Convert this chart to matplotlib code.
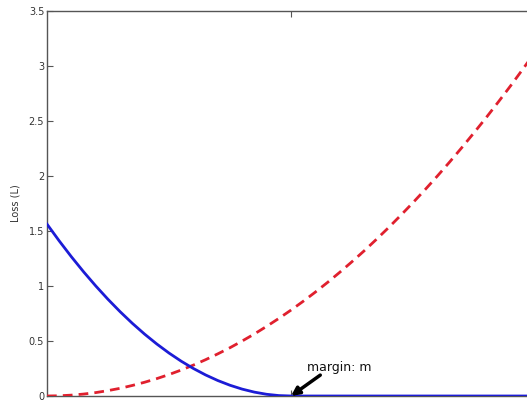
import matplotlib
matplotlib.use("Agg")
import matplotlib.pyplot as plt

# distance values (x)
distance = [0.0, 0.0625, 0.125, 0.1875, 0.25, 0.3125, 0.375, 0.4375, 0.5, 0.5625,
            0.625, 0.6875, 0.75, 0.8125, 0.875, 0.9375, 1.0, 1.0625, 1.125, 1.1875,
            1.25, 1.3125, 1.375, 1.4375, 1.5, 1.5625, 1.625, 1.6875, 1.75, 1.8125,
            1.875, 1.9375, 2.0, 2.0625, 2.125, 2.1875, 2.25, 2.3125, 2.375, 2.4375, 2.5]
# loss for dissimilar pairs (blue, solid)
loss_dissimilar = [1.5625, 1.4102, 1.2656, 1.1289, 1.0, 0.8789, 0.7656, 0.6602, 0.5625, 0.4727,
                   0.3906, 0.3164, 0.25, 0.1914, 0.1406, 0.0977, 0.0625, 0.0352, 0.0156, 0.0039,
                   0.0, 0.0, 0.0, 0.0, 0.0, 0.0, 0.0, 0.0, 0.0, 0.0,
                   0.0, 0.0, 0.0, 0.0, 0.0, 0.0, 0.0, 0.0, 0.0, 0.0, 0.0]
# loss for similar pairs (red, dashed)
loss_similar = [0.0, 0.002, 0.0078, 0.0176, 0.031, 0.049, 0.070, 0.096, 0.125, 0.158,
                0.195, 0.236, 0.281, 0.330, 0.383, 0.439, 0.5, 0.564, 0.633, 0.705,
                0.781, 0.861, 0.945, 1.033, 1.125, 1.221, 1.320, 1.424, 1.531, 1.643,
                1.758, 1.877, 2.0, 2.127, 2.258, 2.393, 2.531, 2.674, 2.820, 2.971, 3.125]
margin = 1.25
y_ticks = [0, 0.5, 1, 1.5, 2, 2.5, 3, 3.5]
y_tick_labels = ["0", "0.5", "1", "1.5", "2", "2.5", "3", "3.5"]

fig = plt.figure(figsize=(5.27, 4.0), dpi=100)
ax = fig.add_axes([47/527, 4/400, 488/527, 385/400])

ax.plot(distance, loss_similar, color="#e0202e", lw=2.0, ls=(0, (3.5, 2.2)), zorder=3)
ax.plot(distance, loss_dissimilar, color="#1c1cd6", lw=2.0, zorder=4)

ax.set_xlim(0, 2.5)
ax.set_ylim(0, 3.5)
ax.set_yticks(y_ticks)
ax.set_yticklabels(y_tick_labels)
ax.set_xticks([margin])
ax.set_xticklabels([])
ax.tick_params(axis="both", direction="in", length=4, width=0.8, color="#555555",
               labelsize=7, labelcolor="#333333", top=True, pad=2)
for s in ax.spines.values():
    s.set_color("#555555")
    s.set_linewidth(1.0)

ax.set_ylabel("Loss (L)", fontsize=7, color="#333333", labelpad=6)

ax.annotate("", xy=(margin, 0.0), xytext=(1.40, 0.19),
            arrowprops=dict(arrowstyle="-|>", lw=2.5, color="black", mutation_scale=12,
                            shrinkA=0, shrinkB=0), zorder=5)
ax.text(1.33, 0.26, "margin: m", fontsize=9, ha="left", va="center", color="#111111")

fig.savefig("out.png", dpi=100)
